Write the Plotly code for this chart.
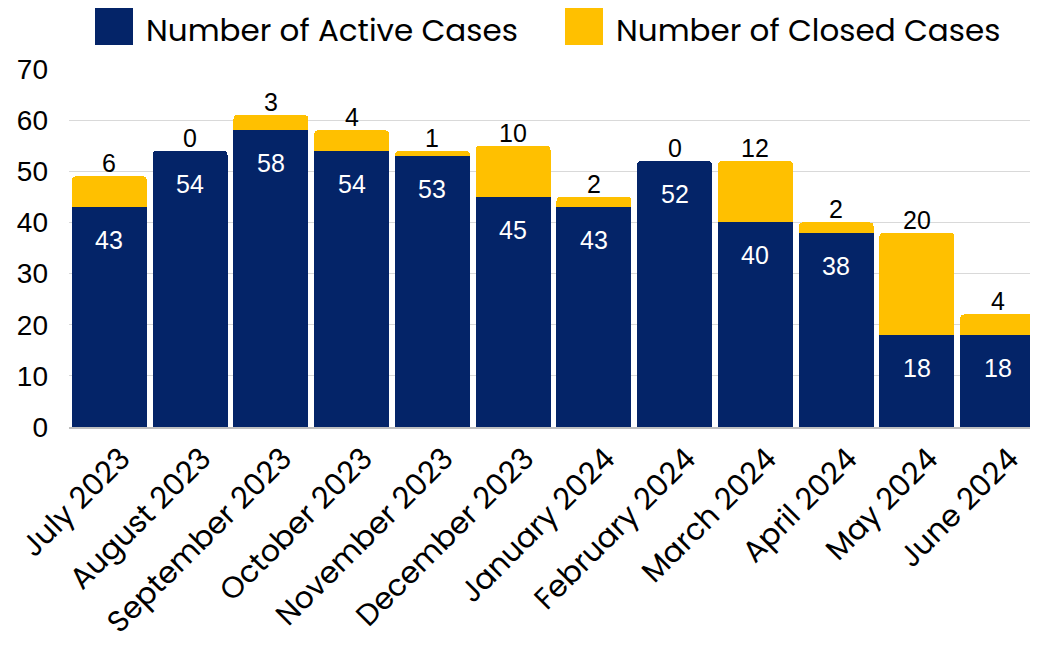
import plotly.graph_objects as go

months = ["July 2023", "August 2023", "September 2023", "October 2023", "November 2023",
          "December 2023", "January 2024", "February 2024", "March 2024", "April 2024",
          "May 2024", "June 2024"]
active = [43, 54, 58, 54, 53, 45, 43, 52, 40, 38, 18, 18]
closed = [6, 0, 3, 4, 1, 10, 2, 0, 12, 2, 20, 4]
series_names = ["Number of Active Cases", "Number of Closed Cases"]

NAVY = "#042468"
GOLD = "#FFC000"
POP = "Poppins, Lato, sans-serif"
ARI = "Liberation Sans, Arial, sans-serif"

OFF = 8  # page body margin
W, H = 1038 - OFF, 651 - OFF
ML, MR, MT, MB = 61, 0, 61, 224
PW, PH = W - ML - MR, H - MT - MB


def px_x(px):
    return (px - OFF - ML) / PW


def px_y(py):
    return (H - MB - (py - OFF)) / PH


totals = [a + c for a, c in zip(active, closed)]

fig = go.Figure()
fig.add_trace(go.Bar(x=months, y=active, name=series_names[0], marker_color=NAVY,
                     marker_line_width=0, showlegend=False))
fig.add_trace(go.Bar(x=months, y=closed, name=series_names[1], marker_color=GOLD,
                     marker_line_width=0, showlegend=False))

# value labels
for m, a, t, c in zip(months, active, totals, closed):
    fig.add_annotation(x=m, y=a, text=str(a), showarrow=False, yanchor="middle", yshift=-33,
                       font=dict(family=ARI, size=25, color="white"))
    fig.add_annotation(x=m, y=t, text=str(c), showarrow=False, yanchor="middle", yshift=13,
                       font=dict(family=ARI, size=25, color="black"))

# custom legend (large square swatches)
legend_items = [(series_names[0], NAVY, 95, 145), (series_names[1], GOLD, 565, 615)]
for name, col, sx, tx in legend_items:
    fig.add_shape(type="rect", xref="paper", yref="paper",
                  x0=px_x(sx), x1=px_x(sx + 38), y0=px_y(45), y1=px_y(8),
                  fillcolor=col, line_width=0)
    fig.add_annotation(xref="paper", yref="paper", x=px_x(tx), y=px_y(30), text=name,
                       showarrow=False, xanchor="left", yanchor="middle", borderpad=0,
                       font=dict(family=POP, size=31, color="black"))

fig.update_layout(
    barmode="stack", bargap=0.074, barcornerradius=4,
    width=W, height=H,
    margin=dict(l=ML, r=MR, t=MT, b=MB),
    plot_bgcolor="white", paper_bgcolor="white",
    font=dict(family=POP, color="black", size=26),
    showlegend=False,
)
fig.update_yaxes(range=[0, 70], dtick=10, showgrid=True, gridcolor="#d9d9d9", gridwidth=1,
                 zeroline=False, tickfont=dict(family=ARI, size=28, color="black"), ticks="",
                 ticklabelstandoff=20, automargin=False)
fig.update_xaxes(tickangle=-45, tickfont=dict(family=POP, size=30, color="black"), showline=True,
                 linecolor="#bfbfbf", linewidth=2, ticks="", automargin=False,
                 ticklabelshift=12)

fig.write_html("out.html")
